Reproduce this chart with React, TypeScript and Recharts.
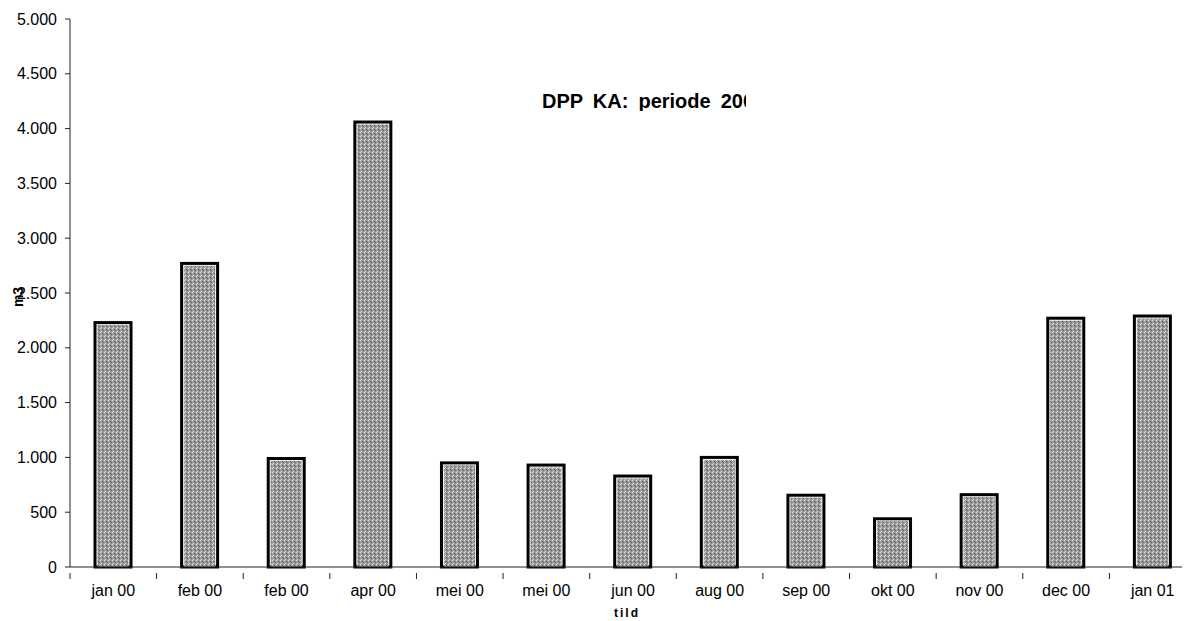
import { BarChart, Bar, XAxis, YAxis } from 'recharts';

const months = ['jan 00', 'feb 00', 'feb 00', 'apr 00', 'mei 00', 'mei 00', 'jun 00', 'aug 00', 'sep 00', 'okt 00', 'nov 00', 'dec 00', 'jan 01'];
const volumes = [2230, 2770, 990, 4060, 950, 930, 830, 1000, 655, 440, 660, 2270, 2290];
const yTicks = [0, 500, 1000, 1500, 2000, 2500, 3000, 3500, 4000, 4500, 5000];

const data = months.map((m, i) => ({ maand: m, m3: volumes[i] }));

const font = '"Liberation Sans", Arial, sans-serif';

const fmt = (v: number) => String(v).replace(/\B(?=(\d{3})+(?!\d))/g, '.');

function TexturedBar(props: any) {
  const { x, y, width, height } = props;
  if (!height || height <= 0) return null;
  return (
    <g>
      <rect x={x} y={y} width={width} height={height} fill="#f4f4f4" stroke="#000" strokeWidth={3} />
      <rect x={x + 2.5} y={y + 2.5} width={Math.max(0, width - 5)} height={Math.max(0, height - 2.5)} fill="url(#stipple)" />
    </g>
  );
}

function MonthTick(props: any) {
  const { x, y, payload, width, visibleTicksCount } = props;
  const bw = (width || 1128) / (visibleTicksCount || 13);
  return (
    <g>
      <line x1={x - bw / 2} x2={x - bw / 2} y1={y - 12} y2={y - 6} stroke="#222" strokeWidth={1} />
      <text x={x} y={y} dy="0.71em" textAnchor="middle" fontSize={16} fontFamily={font} fill="#000">
        {payload.value}
      </text>
    </g>
  );
}

export default function App() {
  return (
    <div style={{ width: 1182, height: 613, overflow: 'hidden', position: 'relative', background: '#fff' }}>
      <svg width={0} height={0} style={{ position: 'absolute' }}>
        <defs>
          <pattern id="stipple" width={4} height={4} patternUnits="userSpaceOnUse">
            <rect width={4} height={4} fill="#9e9e9e" />
            <rect x={0} y={0} width={1} height={1} fill="#e2e2e2" />
            <rect x={2} y={1} width={1} height={1} fill="#505050" />
            <rect x={1} y={3} width={1} height={1} fill="#dcdcdc" />
            <rect x={3} y={2} width={1} height={1} fill="#666" />
            <rect x={2} y={3} width={1} height={1} fill="#848484" />
          </pattern>
        </defs>
      </svg>
      <BarChart width={1200} height={613} data={data} margin={{ top: 11, right: 12, left: 0, bottom: 0 }}>
        <XAxis
          dataKey="maand"
          height={54}
          axisLine={{ stroke: '#222', strokeWidth: 1 }}
          tickLine={false}
          tickSize={6}
          tickMargin={12}
          interval={0}
          tick={<MonthTick />}
          label={{
            content: (p: any) => {
              const vb = p.viewBox;
              return (
                <text
                  x={vb.x + vb.width / 2 - 6}
                  y={vb.y + 46}
                  textAnchor="middle"
                  dominantBaseline="central"
                  fontSize={12}
                  fontWeight="bold"
                  letterSpacing={2}
                  fontFamily={font}
                  fill="#000"
                >
                  tild
                </text>
              );
            },
          }}
        />
        <YAxis
          width={62}
          domain={[0, 5000]}
          ticks={yTicks}
          interval={0}
          tickFormatter={fmt}
          axisLine={{ stroke: '#222', strokeWidth: 1 }}
          tickLine={{ stroke: '#222' }}
          tickSize={5}
          tickMargin={8}
          tick={{ fontSize: 16, fontFamily: font, fill: '#000' }}
          label={{
            content: (p: any) => {
              const vb = p.viewBox;
              const lx = vb.x + 10;
              const ly = vb.y + vb.height / 2 + 4;
              return (
                <text
                  x={lx}
                  y={ly}
                  transform={`rotate(-90 ${lx} ${ly})`}
                  textAnchor="middle"
                  dominantBaseline="central"
                  fontSize={14}
                  fontWeight="bold"
                  fontFamily={font}
                  fill="#000"
                >
                  m3
                </text>
              );
            },
          }}
        />
        <Bar dataKey="m3" barSize={36} shape={<TexturedBar />} isAnimationActive={false} />
      </BarChart>
      <div
        style={{
          position: 'absolute',
          left: 534,
          top: 83,
          width: 204,
          overflow: 'hidden',
          whiteSpace: 'pre',
          fontFamily: font,
          fontWeight: 'bold',
          fontSize: 20,
          lineHeight: '20px',
          wordSpacing: 4.5,
          color: '#000',
        }}
      >
        DPP KA: periode 2000
      </div>
    </div>
  );
}
